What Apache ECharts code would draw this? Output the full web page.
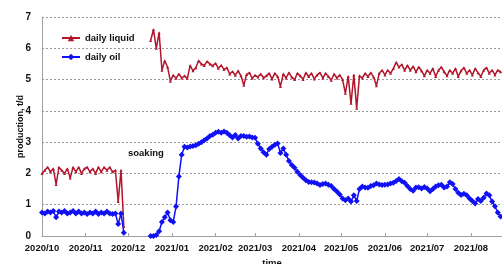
<!DOCTYPE html>
<html>
<head>
<meta charset="utf-8">
<script src="https://cdn.jsdelivr.net/npm/echarts@6/dist/echarts.min.js"></script>
<style>
  html, body { margin: 0; padding: 0; background: #fff; }
  #chart { width: 502px; height: 264px; }
</style>
</head>
<body>
<div id="chart"></div>
<script>
// month tick labels on the date axis
const tickLabels = ['2020/10', '2020/11', '2020/12', '2021/01', '2021/02', '2021/03',
  '2021/04', '2021/05', '2021/06', '2021/07', '2021/08'];

// before soaking: one value every 2 days from 2020-10-01
const preStart = [2020, 10, 1];
const liquidPre = [2.0, 2.1, 2.2, 2.05, 2.15, 1.65, 2.2, 2.1, 2.0, 2.15,
  1.85, 2.2, 2.05, 2.2, 2.0, 2.15, 2.2, 2.05, 2.15, 2.0,
  2.2, 2.05, 2.2, 2.1, 2.2, 2.05, 2.1, 1.1, 2.1, 0.3];
const oilPre = [0.75, 0.72, 0.78, 0.75, 0.8, 0.6, 0.78, 0.75, 0.8, 0.72,
  0.75, 0.8, 0.72, 0.78, 0.72, 0.75, 0.7, 0.75, 0.72, 0.78,
  0.7, 0.75, 0.72, 0.78, 0.72, 0.7, 0.72, 0.38, 0.72, 0.1];

// after soaking: one value every 2 days from 2020-12-17
const postStart = [2020, 12, 17];
const liquidPost = [6.25, 6.6, 6.0, 6.5, 5.3, 5.6, 5.4, 4.95, 5.14, 5.04,
  5.18, 5.05, 5.12, 5.04, 5.45, 5.28, 5.38, 5.6, 5.5, 5.45,
  5.58, 5.5, 5.44, 5.52, 5.36, 5.46, 5.32, 5.38, 5.18, 5.26,
  5.14, 5.28, 5.12, 4.82, 5.16, 5.22, 5.04, 5.14, 5.08, 5.18,
  5.06, 5.12, 5.2, 5.02, 5.2, 5.1, 4.78, 5.18, 5.05, 5.22,
  5.08, 5.0, 5.2, 5.12, 5.0, 5.22, 5.1, 5.2, 5.02, 5.15,
  5.22, 5.05, 5.2, 5.1, 4.98, 5.18, 5.05, 5.15, 5.0, 4.56,
  5.1, 4.24, 5.15, 4.08, 5.12, 5.05, 5.2, 5.1, 5.22, 5.08,
  4.8, 5.2, 5.3, 5.15, 5.3, 5.2, 5.35, 5.55, 5.4, 5.48,
  5.3, 5.45, 5.3, 5.42, 5.25, 5.4, 5.28, 5.12, 5.3, 5.2,
  5.35, 5.1, 5.3, 5.4, 5.25, 5.12, 5.3, 5.2, 5.35, 5.1,
  5.28, 5.38, 5.2, 5.3, 5.15, 5.35, 5.22, 5.1, 5.3, 5.38,
  5.2, 5.3, 5.15, 5.3, 5.25];
const oilPost = [0.0, 0.0, 0.03, 0.15, 0.45, 0.6, 0.75, 0.5, 0.45, 0.94,
  1.9, 2.6, 2.85, 2.83, 2.86, 2.88, 2.9, 2.95, 3.0, 3.06,
  3.12, 3.2, 3.24, 3.3, 3.33, 3.3, 3.34, 3.3, 3.22, 3.15,
  3.23, 3.12, 3.2, 3.2, 3.17, 3.18, 3.15, 3.14, 2.95, 2.8,
  2.68, 2.6, 2.78, 2.85, 2.92, 2.96, 2.65, 2.8, 2.6, 2.4,
  2.27, 2.18, 2.05, 1.95, 1.86, 1.78, 1.73, 1.72, 1.71, 1.68,
  1.63, 1.66, 1.68, 1.64, 1.6, 1.5, 1.42, 1.33, 1.2, 1.14,
  1.2, 1.1, 1.3, 1.12, 1.5, 1.58, 1.55, 1.54, 1.6, 1.62,
  1.68, 1.65, 1.63, 1.64, 1.65, 1.68, 1.7, 1.76, 1.82, 1.75,
  1.7, 1.6, 1.5, 1.45, 1.55, 1.56, 1.52, 1.57, 1.52, 1.43,
  1.5, 1.58, 1.62, 1.64, 1.55, 1.58, 1.72, 1.66, 1.5, 1.38,
  1.31, 1.35, 1.3, 1.2, 1.12, 1.04, 1.18, 1.12, 1.22, 1.36,
  1.3, 1.1, 0.95, 0.75, 0.62];

const stepDays = 2;
const axisStart = [2020, 10, 1];
const axisEnd = [2021, 8, 23];

const toTime = (ymd, addDays = 0) => new Date(ymd[0], ymd[1] - 1, ymd[2] + addDays).getTime();

const buildSeries = (pre, post) => [
  ...pre.map((v, i) => [toTime(preStart, i * stepDays), v]),
  [toTime(preStart, pre.length * stepDays), '-'],
  ...post.map((v, i) => [toTime(postStart, i * stepDays), v])
];

const tickTimes = tickLabels.map((s) => {
  const [y, m] = s.split('/').map(Number);
  return toTime([y, m, 1]);
});

const font = "'Liberation Sans', Arial, sans-serif";
const liquidColor = '#b3152b';
const oilColor = '#1010f5';

const chart = echarts.init(document.getElementById('chart'));

chart.setOption({
  animation: false,
  grid: { left: 42, right: 0, top: 17, bottom: 28, outerBoundsMode: 'none' },
  legend: {
    orient: 'vertical',
    left: 56,
    top: 28,
    itemGap: 9,
    itemWidth: 18,
    itemHeight: 8,
    data: ['daily liquid', 'daily oil'],
    textStyle: { fontFamily: font, fontWeight: 'bold', fontSize: 9.5, color: '#111' }
  },
  xAxis: {
    type: 'value',
    min: toTime(axisStart),
    max: toTime(axisEnd),
    name: 'time',
    nameLocation: 'middle',
    nameGap: 22,
    nameMoveOverlap: false,
    nameTextStyle: { fontFamily: font, fontWeight: 'bold', fontSize: 9.5, color: '#111' },
    axisLine: { lineStyle: { color: '#a0a0a0', width: 1 } },
    axisTick: { show: true, inside: true, length: 3, customValues: tickTimes, lineStyle: { color: '#a0a0a0' } },
    axisLabel: {
      customValues: tickTimes,
      margin: 7,
      fontFamily: font,
      fontWeight: 'bold',
      fontSize: 9.5,
      color: '#111',
      formatter: (val) => {
        const idx = tickTimes.indexOf(val);
        return idx >= 0 ? tickLabels[idx] : '';
      }
    },
    splitLine: { show: false }
  },
  yAxis: {
    type: 'value',
    min: 0,
    max: 7,
    interval: 1,
    name: 'production, t/d',
    nameLocation: 'middle',
    nameGap: 17,
    nameMoveOverlap: false,
    nameTextStyle: { fontFamily: font, fontWeight: 'bold', fontSize: 9, color: '#111' },
    axisLine: { show: true, lineStyle: { color: '#a0a0a0', width: 1 } },
    axisTick: { show: false },
    axisLabel: { margin: 11, fontFamily: font, fontWeight: 'bold', fontSize: 10, color: '#111' },
    splitLine: { lineStyle: { color: '#9a9a9a', type: [2, 2], width: 1 } }
  },
  graphic: [
    {
      type: 'text',
      left: 128,
      top: 148,
      style: { text: 'soaking', fontFamily: font, fontWeight: 'bold', fontSize: 9.5, fill: '#111' }
    }
  ],
  series: [
    {
      name: 'daily liquid',
      type: 'line',
      data: buildSeries(liquidPre, liquidPost),
      connectNulls: false,
      symbol: 'triangle',
      symbolSize: 3,
      color: liquidColor,
      lineStyle: { color: liquidColor, width: 1.5 },
      itemStyle: { color: liquidColor }
    },
    {
      name: 'daily oil',
      type: 'line',
      data: buildSeries(oilPre, oilPost),
      connectNulls: false,
      symbol: 'diamond',
      symbolSize: 6,
      color: oilColor,
      lineStyle: { color: oilColor, width: 1.5 },
      itemStyle: { color: oilColor }
    }
  ]
});
</script>
</body>
</html>
